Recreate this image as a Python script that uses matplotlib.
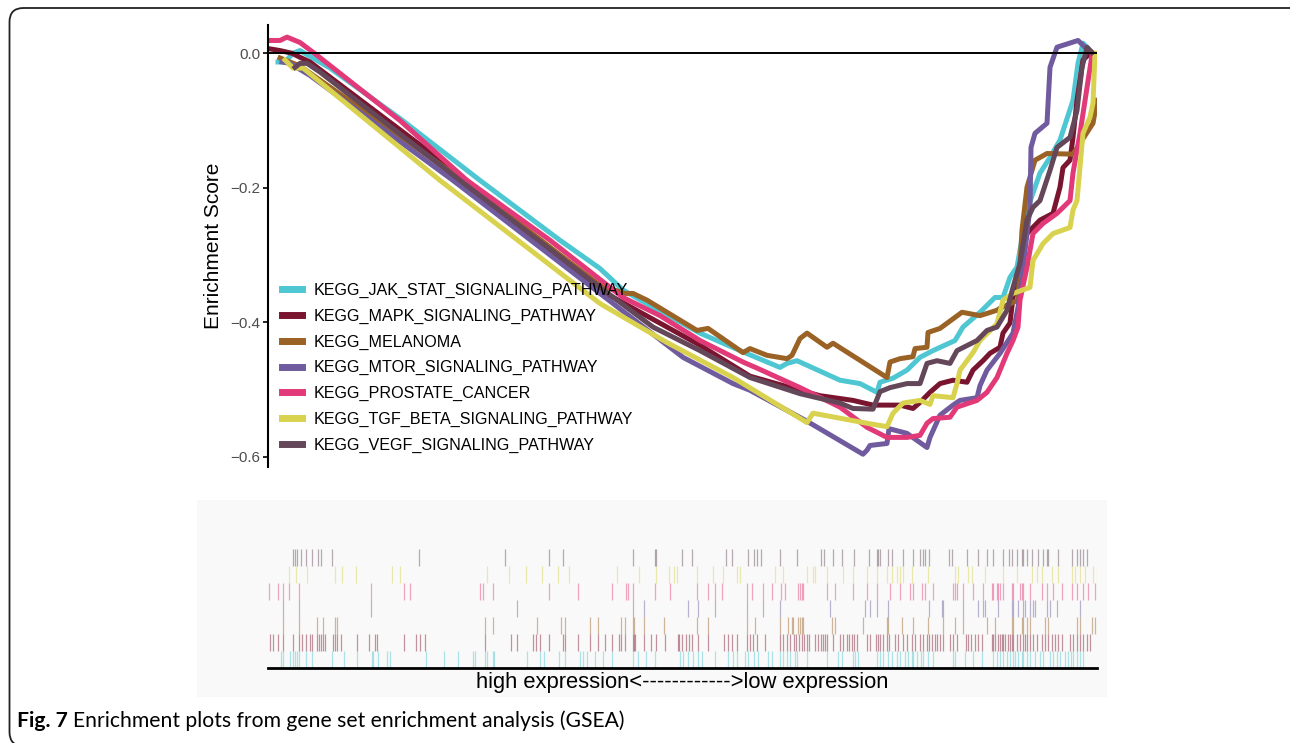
import numpy as np
import matplotlib
matplotlib.use('Agg')
import matplotlib.pyplot as plt
from matplotlib.patches import FancyBboxPatch, Rectangle

plt.rcParams['font.family'] = ['Liberation Sans', 'DejaVu Sans']

# gene sets (legend order)
names = ['KEGG_JAK_STAT_SIGNALING_PATHWAY', 'KEGG_MAPK_SIGNALING_PATHWAY',
         'KEGG_MELANOMA', 'KEGG_MTOR_SIGNALING_PATHWAY', 'KEGG_PROSTATE_CANCER',
         'KEGG_TGF_BETA_SIGNALING_PATHWAY', 'KEGG_VEGF_SIGNALING_PATHWAY']
colors = ['#4FC7D3', '#7A1530', '#9A6225', '#6F5B9D', '#E23A78', '#D9D24E', '#644759']

# running enrichment score, (rank, ES)
jak_x = [10, 17, 25, 32, 62, 132, 212, 292, 332, 355, 382, 432, 472, 512, 519, 529, 572, 592, 609, 612,
         625, 639, 652, 665, 687, 695, 712, 727, 735, 742, 749, 759, 772, 782, 792, 805, 810, 815, 824]
jak_y = [-0.013, -0.013, 0.0, 0.004, -0.022, -0.097, -0.189, -0.278, -0.320, -0.352, -0.375, -0.416,
         -0.442, -0.467, -0.461, -0.457, -0.486, -0.491, -0.504, -0.489, -0.483, -0.471, -0.452, -0.442,
         -0.427, -0.407, -0.385, -0.363, -0.363, -0.333, -0.318, -0.233, -0.178, -0.155, -0.129, -0.070,
         -0.015, 0.015, 0.001]

mapk_x = [0, 12, 24, 32, 42, 192, 332, 432, 482, 532, 552, 585, 605, 632, 645, 652, 662, 672, 685, 699,
          705, 715, 722, 732, 735, 742, 745, 759, 772, 785, 792, 795, 802, 805, 809, 815, 820]
mapk_y = [0.007, 0.004, 0.0, -0.006, -0.013, -0.181, -0.352, -0.434, -0.480, -0.501, -0.509, -0.516,
          -0.523, -0.523, -0.528, -0.519, -0.504, -0.491, -0.486, -0.489, -0.471, -0.457, -0.446, -0.437,
          -0.416, -0.401, -0.363, -0.268, -0.248, -0.238, -0.199, -0.170, -0.159, -0.125, -0.070, -0.010,
          -0.003]

mel_x = [12, 32, 192, 332, 357, 365, 379, 399, 429, 440, 475, 482, 499, 519, 524, 532, 539, 559, 565,
         619, 622, 632, 645, 647, 659, 660, 672, 694, 712, 729, 732, 750, 754, 759, 767, 779, 805, 825, 829]
mel_y = [-0.007, -0.019, -0.186, -0.345, -0.357, -0.357, -0.367, -0.385, -0.412, -0.409, -0.445, -0.439,
         -0.449, -0.454, -0.449, -0.424, -0.416, -0.437, -0.431, -0.482, -0.459, -0.454, -0.451, -0.439,
         -0.437, -0.415, -0.409, -0.385, -0.390, -0.382, -0.379, -0.367, -0.263, -0.199, -0.159, -0.149,
         -0.150, -0.104, -0.070]

mtor_x = [14, 22, 42, 185, 332, 415, 465, 482, 539, 595, 599, 602, 619, 621, 639, 659, 662, 672, 685,
          692, 709, 712, 719, 732, 745, 750, 754, 762, 763, 767, 779, 782, 789, 810, 817, 825]
mtor_y = [-0.013, -0.015, -0.033, -0.189, -0.357, -0.452, -0.491, -0.501, -0.547, -0.596, -0.590, -0.583,
          -0.580, -0.558, -0.565, -0.586, -0.571, -0.538, -0.523, -0.516, -0.512, -0.494, -0.471, -0.446,
          -0.416, -0.378, -0.333, -0.229, -0.140, -0.119, -0.104, -0.021, 0.009, 0.019, 0.009, 0.0]

pros_x = [0, 12, 19, 32, 49, 132, 199, 282, 355, 392, 432, 475, 489, 532, 572, 599, 619, 639, 652, 659,
          665, 682, 689, 709, 719, 729, 739, 745, 750, 752, 759, 765, 775, 789, 802, 805, 812, 819, 824]
pros_y = [0.019, 0.019, 0.024, 0.016, -0.003, -0.100, -0.189, -0.278, -0.363, -0.390, -0.427, -0.459,
          -0.468, -0.497, -0.526, -0.556, -0.571, -0.571, -0.568, -0.550, -0.543, -0.541, -0.526, -0.516,
          -0.504, -0.482, -0.446, -0.427, -0.407, -0.367, -0.318, -0.268, -0.253, -0.238, -0.219, -0.178,
          -0.119, -0.051, -0.003]

tgf_x = [17, 25, 35, 172, 332, 399, 465, 539, 545, 599, 619, 625, 635, 652, 662, 665, 685, 689, 692,
         705, 712, 729, 735, 745, 762, 765, 775, 785, 802, 805, 809, 815, 822, 825, 827]
tgf_y = [-0.010, -0.022, -0.022, -0.189, -0.372, -0.430, -0.482, -0.549, -0.535, -0.550, -0.555, -0.535,
         -0.520, -0.516, -0.522, -0.509, -0.512, -0.491, -0.471, -0.445, -0.427, -0.402, -0.367, -0.357,
         -0.348, -0.308, -0.283, -0.268, -0.259, -0.233, -0.219, -0.119, -0.095, -0.074, 0.0]

vegf_x = [27, 32, 39, 52, 192, 332, 385, 432, 482, 532, 572, 585, 605, 612, 622, 639, 652, 659, 669,
          682, 689, 709, 719, 729, 739, 745, 752, 759, 765, 772, 782, 789, 802, 809, 814, 819, 824]
vegf_y = [-0.021, -0.015, -0.015, -0.028, -0.189, -0.348, -0.407, -0.442, -0.482, -0.506, -0.520, -0.528,
          -0.529, -0.503, -0.497, -0.491, -0.491, -0.461, -0.457, -0.461, -0.442, -0.427, -0.412, -0.407,
          -0.382, -0.348, -0.312, -0.248, -0.229, -0.219, -0.174, -0.140, -0.125, -0.085, -0.021, 0.009,
          0.001]

# hit positions (gene ranks) for each gene set
jak_hits = [13, 15, 22, 25, 27, 29, 31, 38, 44, 64, 76, 89, 104, 105, 110, 119, 122, 158, 176, 190, 205,
            207, 217, 219, 225, 226, 259, 272, 276, 291, 297, 312, 315, 319, 327, 335, 344, 365, 370, 378,
            387, 412, 415, 420, 425, 430, 434, 447, 460, 465, 469, 477, 480, 486, 490, 500, 504, 512, 515,
            519, 522, 527, 529, 539, 559, 570, 574, 585, 587, 590, 609, 612, 615, 620, 624, 629, 632, 637,
            640, 644, 645, 649, 653, 655, 660, 665, 685, 687, 697, 705, 714, 725, 729, 732, 735, 739, 742,
            745, 747, 750, 754, 755, 759, 762, 767, 772, 775, 782, 785, 789, 792, 797, 800, 803, 805, 809,
            812, 815]
mapk_hits = [2, 5, 10, 15, 25, 31, 34, 38, 42, 44, 49, 51, 53, 55, 57, 65, 67, 69, 73, 89, 101, 107, 109,
             136, 148, 152, 157, 217, 243, 249, 265, 268, 272, 281, 295, 297, 310, 322, 330, 337, 344, 351,
             353, 357, 365, 366, 367, 376, 383, 388, 397, 410, 411, 414, 418, 421, 424, 430, 440, 456, 460,
             464, 469, 479, 482, 485, 489, 497, 512, 515, 519, 522, 526, 528, 531, 534, 536, 539, 541, 547,
             550, 553, 555, 557, 559, 565, 572, 575, 579, 581, 584, 586, 589, 599, 602, 608, 610, 612, 615,
             619, 621, 627, 630, 635, 639, 644, 647, 652, 655, 659, 661, 664, 667, 669, 672, 675, 682, 685,
             689, 698, 700, 703, 707, 710, 714, 724, 725, 727, 730, 732, 734, 735, 737, 740, 742, 744, 745,
             749, 752, 755, 757, 759, 762, 765, 769, 774, 777, 780, 784, 787, 790, 794, 802, 805, 809, 812,
             815, 819, 822]
mel_hits = [15, 31, 49, 55, 67, 69, 217, 225, 269, 293, 297, 322, 330, 353, 357, 365, 366, 376, 396, 429,
            440, 479, 487, 512, 520, 524, 525, 530, 532, 534, 535, 564, 567, 595, 619, 620, 634, 645, 660,
            675, 687, 695, 719, 727, 744, 745, 754, 755, 759, 762, 777, 780, 809, 812, 824, 827]
mtor_hits = [15, 31, 103, 249, 365, 376, 420, 430, 447, 479, 495, 512, 562, 597, 602, 609, 620, 661, 674,
             675, 695, 710, 715, 717, 730, 744, 745, 750, 755, 757, 762, 765, 767, 779, 782, 789, 812]
pros_hits = [1, 10, 15, 21, 31, 103, 136, 142, 212, 215, 225, 281, 310, 344, 358, 360, 365, 387, 402, 429,
             440, 447, 454, 479, 484, 495, 504, 513, 517, 530, 532, 534, 535, 559, 567, 585, 599, 609, 622,
             632, 642, 645, 654, 657, 665, 685, 687, 689, 695, 705, 715, 724, 725, 729, 730, 732, 735, 744,
             745, 752, 754, 755, 762, 774, 779, 785, 794, 804, 809, 815, 820, 827]
tgf_hits = [21, 28, 39, 67, 74, 88, 124, 132, 219, 241, 258, 274, 290, 301, 349, 371, 388, 401, 406, 409,
            429, 445, 455, 469, 472, 507, 515, 539, 545, 547, 559, 575, 585, 599, 609, 619, 624, 629, 632,
            635, 644, 660, 687, 690, 700, 704, 717, 735, 749, 764, 769, 774, 784, 790, 804, 807, 812, 817,
            825, 829]
vegf_hits = [25, 27, 29, 33, 38, 44, 50, 53, 64, 151, 237, 281, 295, 365, 387, 388, 414, 424, 458, 464,
             480, 486, 489, 493, 512, 529, 553, 556, 565, 574, 586, 601, 609, 610, 612, 620, 624, 635, 645,
             652, 655, 657, 661, 681, 684, 699, 710, 719, 725, 735, 741, 744, 749, 754, 755, 759, 764, 770,
             775, 779, 780, 790, 804, 809, 812, 815, 819]

curves = [(jak_x, jak_y), (mapk_x, mapk_y), (mel_x, mel_y), (mtor_x, mtor_y),
          (pros_x, pros_y), (tgf_x, tgf_y), (vegf_x, vegf_y)]
hits = [jak_hits, mapk_hits, mel_hits, mtor_hits, pros_hits, tgf_hits, vegf_hits]

W, H = 1290, 743
fig = plt.figure(figsize=(W / 100, H / 100), dpi=100)

# page frame with rounded corners (right and bottom run off the page)
frame = FancyBboxPatch((9.5 / W, -3 / H), 1.1, 1 - 8 / H + 3 / H,
                       boxstyle='round,pad=0,rounding_size=%f' % (14 / W), mutation_aspect=W / H,
                       transform=fig.transFigure, fill=False, ec='#222222', lw=1.3, zorder=-2)
fig.patches.append(frame)

# light grey panel behind the rug
fig.patches.append(Rectangle((197 / W, 1 - 697 / H), 910 / W, 197 / H, transform=fig.transFigure,
                             fc='#f9f9f9', ec='none', zorder=-1))

# enrichment score panel
ax = fig.add_axes([268 / W, 1 - 467 / H, 829 / W, 442 / H])
for (x, y), c, n in zip(curves, colors, names):
    ax.plot(x, y, color=c, lw=3.6, label=n)
ax.axhline(0, color='black', lw=1.4)
ax.set_xlim(0, 829)
ax.set_ylim(-0.615, 0.042)
ax.set_yticks([0.0, -0.2, -0.4, -0.6])
ax.set_yticklabels(['0.0', '\u22120.2', '\u22120.4', '\u22120.6'])
ax.tick_params(axis='y', labelsize=11, labelcolor='#4d4d4d', length=3.5, width=1.2, pad=2)
ax.set_xticks([])
for s in ['top', 'right', 'bottom']:
    ax.spines[s].set_visible(False)
ax.spines['left'].set_linewidth(1.5)
ax.set_ylabel('Enrichment Score', fontsize=15, labelpad=5)
ax.patch.set_alpha(0)
leg = ax.legend(loc='upper left', bbox_to_anchor=(282 / W, 1 - 283 / H), bbox_transform=fig.transFigure,
                frameon=False, fontsize=11.6, handlelength=1.25, handletextpad=0.72, labelspacing=0.66,
                borderpad=0, borderaxespad=0)
for l in leg.get_lines():
    l.set_linewidth(5)

# hit ticks panel
ax2 = fig.add_axes([268 / W, 1 - 668 / H, 829 / W, 119 / H])
for i, (h, c) in enumerate(zip(hits, colors)):
    ax2.vlines(h, i, i + 1, color=c, lw=0.9, alpha=0.45)
ax2.set_xlim(0, 829)
ax2.set_ylim(0, 7)
ax2.set_xticks([])
ax2.set_yticks([])
for s in ['top', 'right', 'left']:
    ax2.spines[s].set_visible(False)
ax2.spines['bottom'].set_linewidth(2)
ax2.patch.set_alpha(0)
ax2.set_xlabel('high expression<------------>low expression', fontsize=15.8, labelpad=3)

# caption
cap = fig.text(17 / W, 1 - 721 / H, 'Fig. 7', fontsize=15.2, fontweight='bold', va='center',
               family=['Lato', 'DejaVu Sans'])
plt.annotate('Enrichment plots from gene set enrichment analysis (GSEA)', xy=(1, 0.5), xycoords=cap,
             xytext=(5, 0), textcoords='offset pixels', va='center', ha='left', fontsize=15.2,
             family=['Lato', 'DejaVu Sans'], annotation_clip=False)

fig.savefig('out.png', dpi=100)
